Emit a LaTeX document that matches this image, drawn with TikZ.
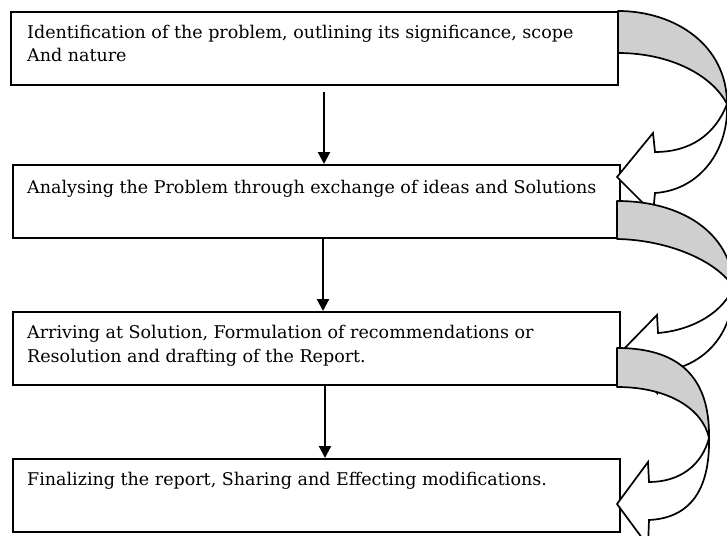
\documentclass[tikz,border=0pt]{standalone}
\usepackage{fontspec}
\setmainfont{DejaVu Serif}
\usetikzlibrary{arrows.meta}

\tikzset{
  stagebox/.style={draw=black, line width=1.9pt, fill=white, inner sep=0pt,
    minimum width=607pt, minimum height=73pt, anchor=north west},
  stagetext/.style={anchor=base west, inner sep=0pt, align=left,
    font=\fontsize{17.5}{24}\selectfont},
  flow/.style={line width=2.2pt, -{Triangle[width=12pt,length=12pt]}},
  bandpart/.style={draw=black, line width=1.7pt, fill=black!19, line join=round},
  headpart/.style={draw=black, line width=1.7pt, fill=white, line join=miter},
}

\begin{document}
\begin{tikzpicture}[x=1pt, y=-1pt]
\useasboundingbox (0,0) rectangle (727,535);
\clip (0,0) rectangle (727,535);
\fill[white] (0,0) rectangle (727,535);

% the four stages
\node[stagebox] (b1) at (10,11) {};
\node[stagebox] (b2) at (12,164) {};
\node[stagebox] (b3) at (12,311) {};
\node[stagebox] (b4) at (12,458) {};

% base west of a two-line node sits on its last line
\node[stagetext] (t1) at ([xshift=17pt,yshift=-51pt]b1.north west)
  {Identification of the problem, outlining its significance, scope\\And nature};
\node[stagetext] (t2) at ([xshift=15pt,yshift=-29pt]b2.north west)
  {Analysing the Problem through exchange of ideas and Solutions};
\node[stagetext] (t3) at ([xshift=15pt,yshift=-51pt]b3.north west)
  {Arriving at Solution, Formulation of recommendations or\\Resolution and drafting of the Report.};
\node[stagetext] (t4) at ([xshift=15pt,yshift=-27pt]b4.north west)
  {Finalizing the report, Sharing and Effecting modifications.};

% straight connectors down the middle
\coordinate (c1) at (324,0);
\coordinate (c2) at (323,0);
\coordinate (c3) at (325,0);
\draw[flow] ([yshift=-6pt]b1.south -| c1) -- (b2.north -| c1);
\draw[flow] (b2.south -| c2) -- (b3.north -| c2);
\draw[flow] (b3.south -| c3) -- (b4.north -| c3);

% curved arrow from stage 1 to stage 2
\draw[bandpart] (618,11) .. controls (675,11) and (727,45) .. (727,104)
  .. controls (712,75) and (670,53) .. (618,53) -- cycle;
\draw[headpart] (727,104) .. controls (715,135) and (690,152) .. (655,152)
  -- (653,133) -- (617,177) -- (653,213) -- (655,193)
  .. controls (700,190) and (729,150) .. (727,104) -- cycle;

% curved arrow from stage 2 to stage 3
\draw[bandpart] (617,201) .. controls (690,201) and (733,240) .. (733,287)
  .. controls (718,262) and (670,240) .. (617,239) -- cycle;
\draw[headpart] (733,287) .. controls (725,310) and (695,330) .. (658,333)
  -- (657,315) -- (619,354) -- (657,393) -- (658,372)
  .. controls (703,368) and (734,335) .. (733,287) -- cycle;

% curved arrow from stage 3 to stage 4
\draw[bandpart] (617,348) .. controls (680,348) and (710,378) .. (709,438)
  .. controls (703,410) and (670,387) .. (617,387) -- cycle;
\draw[headpart] (709,438) .. controls (702,465) and (680,482) .. (649,482)
  -- (648,462) -- (617,504) -- (648,546) -- (649,520)
  .. controls (690,518) and (710,490) .. (709,438) -- cycle;
\end{tikzpicture}
\end{document}
